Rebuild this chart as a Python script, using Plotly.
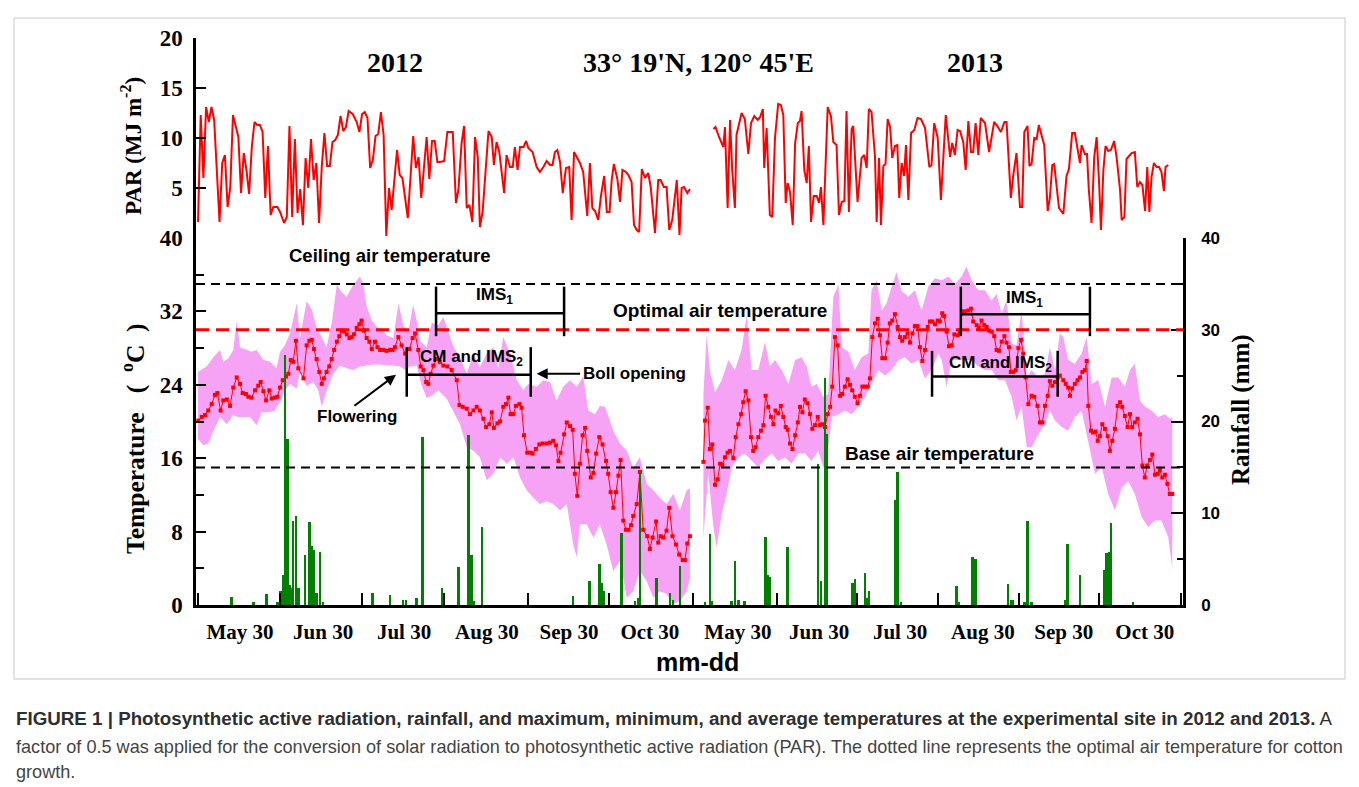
import plotly.graph_objects as go

# ------------------------------------------------------------------
# DATA  (x = day index on the shared season axis; 2012 season starts at 0,
#        2013 season is placed after it, starting near 184)
# ------------------------------------------------------------------
par12_day = [0, 1, 2, 3, 4, 5, 6, 8, 9, 10, 11, 12, 13, 15, 16, 17, 18, 19, 20, 21,
             22, 23, 24, 25, 26, 27, 28, 29.5, 30.5, 32, 33, 34, 35, 36, 37, 38, 39, 40, 41, 42,
             43, 44, 45, 46, 47, 48, 49, 50, 51, 52, 53, 54, 55, 56, 57.5, 59, 60, 61, 62, 63,
             64, 65, 66, 67, 68, 69, 70, 71, 72, 74, 75, 76, 78, 80, 81, 82, 83, 85, 86, 87,
             88, 89,
             90, 91.5, 92.7, 94.7, 95.9, 96.8, 98, 98.9, 99.9, 100.9,
             102, 103, 104, 104.8, 105.8, 108, 109.2, 110, 111, 112,
             113.8, 114.7, 116, 117, 117.8, 118.8, 119.7, 121, 122, 122.8,
             124.4, 125.9, 127.1, 128.4, 129.6, 130.9, 131.8, 132.7, 133.6, 134.6,
             135.6, 136.8, 138, 138.9, 139.8, 141, 142, 143.2, 144.7, 145.7,
             146.6, 147.6, 148.8, 149.8, 151, 152, 153, 153.8, 154.6, 155.9,
             156.9, 157.8, 159.1, 160, 161.2, 162.1, 163.1, 164, 165, 166.2,
             167.4, 168.3, 169.9, 171.1, 172, 173.2, 174.2, 175.2, 176.3, 178,
             179, 179.8, 180.7, 181.9, 182.9]
par12 = [1.6, 12.3, 6.0, 13.1, 11.6, 13.1, 11.8, 1.6, 7.5, 8.3, 3.1, 5.1, 12.3, 10.1, 4.5, 8.5, 6.8, 4.4, 9.1, 11.6,
         11.3, 11.3, 10.6, 4.0, 9.2, 2.3, 3.1, 3.1, 2.6, 1.5, 2.1, 11.2, 2.1, 9.9, 2.5, 4.9, 1.3, 8.0, 5.0, 9.9,
         5.8, 7.5, 1.5, 7.1, 10.5, 7.2, 7.2, 9.6, 9.8, 10.3, 12.2, 10.7, 11.1, 12.7, 12.4, 11.6, 10.6, 12.4, 12.6, 12.0,
         7.0, 7.8, 10.2, 10.4, 12.6, 10.3, 0.2, 5.0, 2.8, 8.8, 6.3, 6.0, 2.0, 10.2, 7.0, 8.1, 4.0, 10.1, 5.9, 9.7,
         9.7, 7.6,
         7.6, 7.7, 10.6, 10.6, 3.5, 4.8, 9.5, 11.2, 3.0, 3.3,
         1.6, 10.1, 8.1, 1.1, 2.6, 10.7, 10.1, 7.3, 9.6, 8.6,
         4.5, 8.3, 7.1, 7.1, 9.1, 6.8, 9.1, 9.1, 9.7, 9.0,
         8.6, 7.1, 6.6, 7.1, 7.7, 7.3, 7.3, 8.6, 8.8, 7.6,
         4.5, 7.0, 7.1, 1.8, 8.6, 8.0, 7.5, 6.6, 2.2, 7.5,
         3.0, 2.7, 1.8, 4.2, 6.2, 2.6, 2.6, 5.8, 7.4, 5.9,
         3.6, 6.8, 6.6, 6.3, 5.6, 1.3, 0.8, 0.6, 6.9, 6.0,
         6.5, 5.1, 0.5, 5.8, 5.8, 5.1, 5.1, 0.8, 1.8, 5.8,
         0.3, 5.0, 5.1, 4.5, 4.9]

par13_day = [191.6, 192.4, 193.7, 195.3, 195.9, 196.9, 197.8, 198.6, 199.6, 200.2,
             202.1, 203.3, 204.6, 205.6, 206.8, 208.1, 209, 210, 210.5, 211.4,
             212.6, 213.5, 214.5, 215.7, 216.7, 217.6, 218.5, 219.2, 220.1, 221.1,
             222, 223, 223.8, 224.4, 225.4, 226.3, 227.1, 227.9, 228.9, 230,
             230.9, 231.6, 232.5, 234.1, 235.3, 236.2, 237.4, 238.3, 239.3, 240.3,
             241.1, 242, 243, 243.6, 245.2, 246.7, 247.7, 248.6, 249.4, 250.4,
             251.7, 252.3, 253.2, 253.9, 254.8, 255.6, 256.4, 257.3, 258.1, 259.1,
             260, 260.7, 261.6, 262.5, 263.2, 264.1, 265.1, 266.3, 267.5, 268.8,
             270.3, 271.9, 272.7, 273.7,
             275, 276.2, 278, 279.6, 280.4, 281.4, 282.4, 283.3, 284.5, 285.4,
             286.4, 287.4, 288.2, 289.1, 290.1, 291, 292.6, 294.1, 296, 296.9,
             298.5, 299.8, 300.6, 302.2, 303.1, 304.3, 305.6, 306.4, 307.2, 308.4,
             309.1, 309.9, 310.9, 311.8, 312.6, 313.4, 314.6, 315.9, 316.7, 317.6,
             318.3, 320.1, 321.7, 322.9, 323.8, 325, 326, 327.9, 328.5, 329.7,
             330.5, 331.2, 332.2, 333.2, 334.1, 335, 335.7, 336.6, 337.4, 338.4,
             339.4, 340.6, 341.5, 342.8, 343.4, 344.4, 345.2, 347.1, 348.3, 349.2,
             350.2, 351.1, 352.1, 352.9, 353.7, 354.5, 355.4, 356.4, 357.3, 358.2,
             359.1, 359.7, 360.7]
par13 = [10.9, 11.1, 10.1, 9.1, 11.1, 3.0, 11.8, 6.8, 3.0, 10.3,
         12.5, 11.9, 8.4, 11.5, 12.2, 11.8, 12.1, 12.9, 7.0, 11.0,
         2.3, 2.1, 10.0, 13.4, 13.3, 12.3, 3.5, 5.5, 4.6, 1.3,
         9.5, 11.5, 11.7, 12.7, 6.8, 5.5, 9.2, 1.6, 4.2, 4.2,
         3.5, 5.1, 1.3, 13.1, 12.2, 9.6, 9.3, 2.3, 3.6, 3.7,
         12.7, 2.6, 10.9, 11.2, 3.6, 8.0, 8.3, 7.0, 12.9, 12.6,
         8.1, 1.6, 8.0, 1.3, 7.2, 7.4, 11.9, 11.1, 8.0, 9.2,
         9.3, 4.0, 7.5, 6.2, 9.3, 3.8, 10.5, 10.8, 12.0, 11.9,
         11.0, 7.1, 7.3, 11.5,
         10.0, 3.8, 12.3, 8.1, 9.5, 8.3, 10.8, 10.7, 9.6, 6.8,
         11.7, 8.6, 8.6, 11.5, 8.3, 12.0, 11.5, 8.6, 11.6, 11.3,
         10.6, 11.6, 11.6, 4.0, 6.3, 8.5, 3.1, 3.1, 10.6, 11.2,
         7.2, 7.4, 10.0, 9.9, 11.3, 10.5, 9.3, 2.7, 4.0, 7.3,
         7.4, 3.0, 2.4, 6.2, 6.9, 10.5, 10.5, 7.5, 9.3, 8.4,
         8.4, 4.8, 1.5, 8.1, 10.1, 5.6, 0.8, 6.8, 9.2, 8.7,
         8.8, 9.7, 8.1, 4.8, 1.8, 2.1, 7.9, 8.5, 8.6, 5.1,
         5.6, 5.3, 2.7, 7.1, 2.6, 6.1, 7.5, 7.1, 7.1, 6.6,
         4.7, 7.1, 7.3]

tavg12_day = [0.1, 1.4, 2.6, 3.8, 5.1, 6.3, 7.2, 8.4, 9.4, 10.7, 11.9, 13.1, 14.4, 15.6, 16.6, 17.8, 18.7, 19.9,
              21.2, 22.4, 23.3, 24.3, 25.3, 26.5, 27.4, 28.6, 29.5, 30.5, 31.5, 32.7, 33.6, 34.5, 35.4, 36.4,
              37.3, 39.2, 40.4, 41.4, 42.3, 43.1, 44.1, 45.1, 46, 46.8, 47.8, 48.8, 49.7, 50.6, 51.6, 52.5,
              53.4, 54.3, 55.3, 56.3, 57.1, 58, 59, 60, 60.8, 61.7, 62.7, 63.7, 64.6, 65.8, 66.7, 67.7, 68.9,
              70.1, 71.4, 72.4, 73.2, 74.5, 75.7, 77, 78.6, 79.8, 80.7, 81.9, 82.8, 83.8, 84.8, 85.6, 86.5,
              87.5, 88.7, 89.9,
              91.2, 92.7, 94.3, 96.2, 97.2, 98.4, 99.9, 101.1, 102.4, 103.6, 104.8, 106.1, 107.1, 108.3,
              109.2, 110, 111.3, 112.3, 113.5, 114.5, 115.4, 116.2, 117.2, 118.2, 119.5, 120.3, 121.2,
              122.4, 123.7, 124.4, 125.6, 126.9, 128.1, 129.6, 130.9, 132.1, 133.1, 134, 134.8, 136.1,
              137.1, 138.3, 139.3, 140.1, 141, 142, 143, 143.9, 144.7, 146, 147, 148, 149.2, 150.4, 151.7,
              152.5, 153.4, 154.4, 155.4, 156.3, 157.1, 158.1, 159.1, 160.1, 161, 161.8, 163.1, 164.3,
              165.5, 167, 168, 169, 170.3, 171.1, 172, 173, 174.2, 175.2, 176.4, 177.7, 178.9, 180.2, 181,
              181.9, 182.9]
tavg12 = [20.1, 20.5, 20.7, 21.2, 21.9, 22.9, 23.1, 21.2, 22.3, 22.4, 21.7, 23.7, 24.8, 24.1, 23.1, 23.0, 22.7, 22.6,
          23.4, 23.9, 24.3, 23.3, 22.3, 23.4, 22.5, 22.6, 22.7, 23.7, 24.5, 24.9, 25.2, 26.7, 26.5, 28.8,
          25.8, 24.7, 28.3, 28.8, 28.9, 27.9, 26.8, 25.4, 24.1, 24.7, 25.4, 26.0, 26.8, 27.8, 28.7, 29.3,
          29.9, 29.8, 29.5, 29.1, 29.2, 29.5, 30.2, 30.6, 31.0, 29.9, 29.1, 28.7, 27.9, 28.7, 28.1, 27.8, 27.8,
          27.7, 27.8, 27.8, 28.1, 29.2, 28.3, 27.4, 27.9, 29.1, 29.6, 27.8, 26.0, 25.6, 24.3, 24.1, 25.2,
          26.1, 26.8, 26.5,
          26.1, 26.0, 25.6, 24.5, 21.8, 21.6, 21.4, 20.8, 21.2, 21.6, 21.2, 20.3, 19.4, 19.7,
          21.0, 19.3, 19.8, 20.0, 21.6, 21.9, 22.6, 20.8, 20.8, 21.7, 21.9, 21.5, 18.5,
          16.6, 16.6, 16.5, 17.0, 17.5, 17.6, 17.6, 17.7, 17.9, 17.4, 15.7, 16.6, 18.6,
          19.9, 19.5, 19.1, 14.3, 11.9, 15.4, 18.5, 19.3, 16.8, 13.9, 14.4, 16.5, 18.3, 17.5, 15.7,
          14.3, 12.3, 10.6, 12.3, 14.1, 15.8, 9.2, 8.2, 8.2, 8.7, 9.7, 11.0, 14.5,
          8.2, 7.5, 6.1, 7.35, 9.1, 6.8, 7.5, 7.35, 8.1, 10.6, 7.5, 6.6, 5.5, 4.9, 4.9,
          6.7, 7.5]

tmax12_day = [0, 3.2, 5.7, 8.2, 9.4, 11.3, 13.1, 14.4, 15.6, 18.1, 19.9, 21.8, 24.3, 26.8, 29.2, 30.5, 32.3,
              34.2, 36.7, 37.9, 40.4, 42.3, 44.1, 46, 47.8, 49.7, 51.6, 53.4, 55.3, 57.7, 60.2, 61.5, 62.7,
              64.6, 66.4, 68.3, 70.1, 72.6, 74.5, 76.3, 78.2, 80, 81.3, 82.5, 85, 86.9, 89.3, 91.2, 92.4, 95,
              97.4, 99.9, 102.4, 104.8, 107.3, 109.8, 111.6, 113.5, 116, 118.5, 121, 122.8, 125.9, 128.4,
              130.9, 133.3, 135.8, 138.3, 140.8, 143.2, 145.1, 147.6, 149.4, 151.3, 154.4, 156.9, 159.4,
              161.8, 164.3, 166.8, 169.3, 171.7, 174.2, 176.7, 179.2, 181.7, 182.9]
tmax12 = [25.4, 26.0, 27.0, 27.8, 26.5, 26.9, 27.8, 31.0, 28.1, 27.8, 27.6, 27.8, 26.7, 26.5, 25.8, 27.6, 28.3,
          29.6, 32.9, 29.1, 33.1, 32.2, 30.2, 29.2, 28.1, 30.7, 34.9, 34.1, 33.6, 34.9, 35.8, 34.9, 32.5,
          31.0, 30.3, 30.1, 29.4, 29.1, 32.9, 30.5, 29.8, 32.7, 31.0, 28.8, 28.1, 30.8, 30.5, 31.4, 30.3, 28.1,
          27.0, 25.2, 27.4, 25.9, 27.4, 28.1, 25.8, 29.2, 27.4, 24.5, 23.4, 24.1, 23.8, 24.5,
          24.3, 22.3, 23.8, 24.5, 23.8, 24.9, 21.2, 20.8, 21.7, 21.6, 19.0, 17.6, 16.8,
          15.0, 16.1, 13.2, 12.5, 11.7, 11.0, 12.1, 10.3, 12.5, 12.7]

tmin12_day = [0, 2, 3.8, 5.7, 8.2, 10.7, 13.1, 15, 16.9, 19.3, 21.8, 23.7, 26.2, 28.6, 30.5, 32.3, 34.2, 36.7,
              37.9, 40.4, 42.9, 44.7, 46, 47.8, 50.3, 52.8, 55.3, 57.7, 60.2, 62.7, 65.2, 67.7, 70.1, 72.6,
              75.1, 77, 78.8, 81.3, 83.2, 85, 86.9, 89.3, 92.4, 97.4, 99.9, 102.4, 104.8, 107.3, 109.8, 112.3,
              114.8, 117.3, 119.7, 122.2, 124.7, 127.1, 129.6, 132.1, 134.6, 137.1, 139.5, 140.8, 142, 144.5,
              147, 149.4, 151.9, 154.4, 156.9, 159.4, 161.8, 164.3, 166.8, 169.3, 171.7, 174.2, 176.7, 179.2,
              181.7, 182.9]
tmin12 = [18.1, 17.4, 17.6, 19.0, 20.5, 19.7, 20.7, 20.5, 20.5, 20.5, 19.6, 21.0, 21.0, 21.2, 22.1, 23.4, 24.1, 23.6,
          25.4, 23.9, 24.3, 23.4, 21.6, 23.4, 25.2, 26.1, 25.8, 25.6, 26.0, 26.1, 26.2, 26.2, 26.1, 26.1,
          26.0, 25.6, 26.0, 26.1, 23.9, 22.6, 22.8, 23.4, 22.5, 19.7, 17.2, 16.8, 16.1, 13.6, 14.3, 16.1,
          15.4, 16.1, 13.9, 12.5, 11.7, 11.0, 11.3, 11.0, 10.3, 11.0, 6.6, 5.2, 8.8, 8.8,
          7.35, 8.8, 6.6, 3.7, 4.8, 0.8, 1.5, 3.7, 2.6, 0.8, 1.5, 1.2, 0.1, 0.5,
          1.5, 2.9]

tavg13_day = [187.9, 188.5, 189.5, 190.3, 191.2, 192.2, 193.2, 194.1, 194.9, 195.9, 196.9, 197.8, 199, 199.9,
              200.9, 201.9, 202.7, 203.6, 204.6, 205.6, 206.4, 207.3, 208.3, 209.3, 210.2, 211, 212, 213,
              213.9, 214.7, 215.7, 216.7, 217.6, 218.5, 219.2, 220.1, 221, 222, 223, 223.8, 224.7, 225.6,
              226.6, 227.5, 228.4, 229.4, 230.4, 231.2, 232.1, 233.1, 234.1, 235, 235.8, 236.8, 237.8, 238.7,
              239.5, 240.5, 241.5, 242.4, 243.2, 244.2, 245.2, 246.1, 247, 248, 249, 249.8, 250.7, 251.7,
              252.7, 253.5, 254.4, 255.4, 256.4, 257.2, 258.1, 259.1, 260.1, 261, 261.8, 262.8, 263.8, 264.7,
              265.6, 266.5, 267.5, 268.4, 269.3, 270.3, 271.3, 272.1, 273, 274, 275, 275.8, 276.7,
              277.4, 278.3, 279.2, 280.2, 281.2, 282.4, 283.3, 284.1, 285.1, 286.4, 287.4, 288.2, 289.5,
              290.3, 291.3, 292.3, 293.2, 294.1, 295.1, 296, 296.9, 297.8, 298.8, 299.8, 300.6, 301.5, 302.2,
              303.1, 304, 305, 306, 306.8, 307.7, 308.7, 309.9, 310.9, 312.1, 313, 313.9, 314.9, 315.9, 316.7,
              317.6, 318.6, 319.6, 320.4, 321.7, 322.6, 323.5, 324.2, 325, 326, 327, 327.9, 328.8, 329.7,
              330.4, 331, 332, 332.8, 333.7, 334.5, 335.3, 336.2, 337.2, 338.2, 339, 339.9, 340.9, 341.9,
              342.8, 343.6, 344.6, 345.6, 346.5, 347.3, 348.3, 349.3, 350.2, 351.1, 352, 352.9, 353.9, 354.8,
              355.8, 356.8, 357.6, 358.5, 359.5, 360.4, 361.3, 362.2]
tavg13 = [15.6, 20.1, 21.5, 17.0, 17.5, 13.1, 13.7, 15.4, 15.3, 16.1, 16.6, 16.8, 16.0, 18.3,
          19.7, 20.8, 22.1, 23.3, 22.3, 18.3, 16.8, 17.2, 18.3, 19.0, 19.6, 22.8, 21.6, 20.5,
          19.7, 21.2, 20.9, 21.7, 20.5, 19.4, 19.1, 17.6, 17.0, 18.5, 19.9, 21.6, 21.0, 22.4,
          22.0, 20.8, 19.2, 19.6, 20.5, 19.6, 19.7, 19.4, 20.8, 21.6, 23.8, 29.2, 28.3, 22.8,
          23.0, 23.8, 24.6, 24.0, 23.4, 22.7, 22.0, 22.8, 23.8, 23.8, 23.8, 24.7, 29.2, 30.7,
          31.2, 29.4, 26.9, 26.9, 28.6, 30.7, 31.0, 31.7, 30.3, 29.2, 28.8, 29.2, 29.6, 28.6,
          29.6, 30.4, 30.4, 28.1, 26.6, 27.8, 30.3, 30.9, 30.9, 30.6, 31.0, 30.9, 31.8,
          31.5, 29.8, 28.2, 28.3, 29.5, 29.4, 29.8, 32.0, 32.0, 32.1, 32.3, 30.9, 30.5,
          30.2, 31.0, 30.5, 30.3, 29.9, 29.8, 29.3, 27.8, 27.7, 28.7, 29.3, 28.6, 28.1, 25.4,
          25.4, 25.6, 28.0, 28.9, 27.4, 24.8, 21.9, 22.8, 22.7, 21.7, 19.9, 19.9, 21.7, 22.8, 24.4,
          23.9, 24.3, 24.8, 25.0, 24.5, 24.1, 23.7, 22.8, 23.6, 24.1, 24.5, 24.8, 25.4, 25.6,
          26.6, 21.7, 19.0, 18.8, 18.9, 17.9, 18.4, 19.7, 19.2, 18.4, 16.8, 17.9, 19.2, 21.7,
          22.1, 21.6, 20.6, 19.4, 20.8, 19.4, 19.9, 20.3, 18.6, 15.2, 13.9, 15.2, 15.8, 16.4,
          14.2, 14.3, 14.7, 13.9, 14.2, 13.2, 12.1, 12.1]

tmax13_day = [187.9, 189.1, 190.3, 192.2, 194.7, 197.2, 199.6, 202.1, 204, 205.8, 208.3, 210.8, 212.6, 214.5,
              217, 219.5, 222, 224.4, 226.3, 228.1, 230, 232.5, 234.3, 236.2, 238.1, 239.3, 241.8, 244.2,
              246.7, 249.2, 250.4, 252.3, 254.2, 256, 257.9, 259.7, 261.6, 264.1, 266.5, 269, 271.5, 274,
              276.5, 279, 281.4, 283.9, 285.7, 287.6, 290.1, 292.6, 295, 296.9, 298.8, 300.6, 302.5, 304.3,
              306.2, 308.1, 309.9, 312.4, 314.9, 316.7, 318.6, 320.4, 321.7, 323.5, 326, 328.5, 330.4, 332.2,
              334.7, 337.2, 339.7, 342.1, 344.6, 346.5, 348.3, 350.2, 352.1, 354.5, 357, 359.5, 361.3, 362.2]
tmax13 = [23.0, 29.4, 25.6, 23.2, 24.5, 26.7, 25.6, 27.8, 31.6, 25.6, 25.6, 28.7, 26.0, 26.7,
          25.6, 24.1, 26.7, 27.0, 26.0, 23.8, 24.1, 22.7, 23.0, 33.6, 34.9, 28.1, 27.6, 25.6,
          27.0, 27.4, 34.3, 35.4, 32.1, 32.9, 34.7, 36.3, 34.2, 33.6, 34.3, 32.1, 34.7, 35.6,
          35.4, 35.8, 35.0, 35.8, 36.9, 35.4, 34.3, 34.3, 33.2, 33.9, 31.8, 33.2, 28.5, 28.3,
          32.1, 24.8, 25.6, 24.8, 25.2, 28.1, 25.6, 29.6, 29.2, 26.7, 26.3, 27.4, 29.2, 24.1,
          24.5, 21.6, 24.8, 24.8, 23.8, 25.6, 26.3, 22.3, 21.6, 21.2, 20.5, 20.8, 20.3, 20.5]

tmin13_day = [187.9, 189.7, 191.6, 192.8, 194.7, 196.5, 198.4, 200.9, 203.3, 205.8, 208.3, 210.8, 213.3, 215.7,
              218.2, 220.7, 223.2, 225.7, 228.1, 230.6, 232.5, 233.7, 235.6, 238.1, 240.5, 243, 245.5, 248,
              250.4, 252.9, 255.4, 257.9, 260.4, 262.8, 265.3, 267.8, 270.3, 272.7, 275.2, 276.5, 278.3,
              280.2, 282.7, 285.1, 287.6, 290.1, 292.6, 295.1, 297.5, 300, 302.5, 304.3, 306.2, 308.1, 309.9,
              312.4, 314.9, 316.7, 318.6, 321.1, 323.5, 326, 328.5, 331, 333.5, 336, 338.4, 340.9, 343.4,
              345.9, 348.3, 350.8, 353.3, 355.8, 358.2, 360.7, 362.2]
tmin13 = [7.4, 14.3, 8.5, 6.3, 9.9, 12.1, 15.0, 16.1, 16.5, 15.7, 15.0, 15.9, 16.5, 15.7,
          16.1, 15.4, 16.5, 16.5, 15.7, 16.8, 15.0, 15.4, 20.5, 20.8, 21.2, 20.8, 21.6, 22.7,
          24.1, 25.6, 25.0, 25.6, 26.7, 27.0, 26.3, 26.7, 24.7, 25.6, 27.4, 26.7, 23.8,
          26.7, 26.7, 26.7, 26.7, 26.0, 25.6, 25.6, 24.5, 24.5, 22.7, 20.1, 21.6, 17.2, 17.2,
          18.6, 19.7, 21.2, 20.1, 19.4, 19.0, 20.5, 21.2, 17.9, 14.3, 15.0, 12.1, 10.3, 12.8,
          13.5, 12.1, 9.6, 8.5, 9.2, 9.2, 7.4, 4.1]

rain12_day = [12.5, 20.6, 25.5, 29.5, 30.7, 31.5, 32.3, 33.2, 34, 34.8, 35.4, 36.4, 37.3, 39.8, 41.4, 42.3, 43.1,
              44.1, 45.4, 46.4, 64.9, 71.4, 76.1, 77.3, 81.3, 83.4, 90.6, 96.8, 100.5, 101.1, 101.7, 102.4,
              105.5, 139.5, 145.5, 149.2, 150.1, 150.7, 157.5, 162.5, 163.7, 164.3, 170.5, 175.5, 176.5, 179.2]
rain12 = [0.9, 0.3, 1.2, 0.3, 1.5, 3.3, 27.2, 18.1, 2.2, 1.8, 9.2, 9.7, 1.8, 5.5, 9.1, 6.4, 6.0,
          1.3, 5.8, 0.3, 1.3, 1.1, 0.6, 0.6, 0.8, 18.3, 1.8, 4.1, 18.5, 5.2, 5.4, 0.4,
          8.5, 1.0, 2.6, 4.5, 2.4, 1.5, 7.9, 0.4, 0.8, 14.5, 2.9, 1.3, 0.6, 4.3]
rain13_day = [188.5, 190.3, 191, 198.4, 199.6, 200.9, 203.1, 211, 212, 212.6, 219.2, 230.6, 231.6, 233.1, 233.7,
              243.3, 244.2, 244.9, 248, 248.6, 249.4, 259.1, 260.1, 261.3, 282, 282.7, 287.9, 289.1, 301.2,
              302.2, 303.1, 307.2, 308.4, 309.9, 322.3, 323.3, 327.9, 337, 337.8, 338.7, 339.4, 347.7]
rain13 = [0.3, 7.7, 0.4, 0.4, 4.8, 0.6, 0.4, 7.4, 3.3, 3.1, 6.3, 15.4, 2.6, 24.7, 18.6,
          2.4, 2.8, 0.8, 3.5, 0.8, 1.5, 11.4, 14.5, 0.3, 2.1, 0.3, 5.2, 5.0, 2.3,
          0.6, 0.6, 0.3, 9.2, 0.3, 0.6, 6.7, 3.3, 3.8, 5.7, 5.8, 8.9, 0.3]

# axis ticks / labels
month_ticks = [0, 30.5, 61.0, 91.4, 122.7, 152.8, 184.0, 215.2, 245.0, 275.1, 305.2, 335.0, 365.4]
label_days = [15.6, 46.5, 76.6, 107.4, 137.9, 168.0, 200.7, 230.9, 261.0, 291.8, 321.9, 352.0]
label_text = ["May 30", "Jun 30", "Jul 30", "Aug 30", "Sep 30", "Oct 30"] * 2
par_ticks = [5, 10, 15, 20]
temp_ticks = [0, 8, 16, 24, 32, 40]
temp_minor = [4, 12, 20, 28, 36]
rain_ticks = [0, 10, 20, 30, 40]
rain_minor = [5, 15, 25, 35]

# reference temperatures
T_CEIL, T_OPT, T_BASE = 35, 30, 15

# growth stages (day index spans and bracket levels)
ims1_spans = [(88.5, 136.1), (283.6, 331.6)]
ims1_level = [31.8, 31.7]
cm_spans = [(77.6, 123.7), (272.9, 319.6)]
cm_level = [25.1, 24.9]

# ------------------------------------------------------------------
W, H = 1359, 787
ML, MR, MT, MB = 196, 176, 38, 182
PW, PH = W - ML - MR, H - MT - MB
def pxx(x):
    return (x - ML) / PW
def pxy(y):
    return (H - MB - y) / PH
split = pxy(238)

RED = "#FF0000"
PINK = "#F7A3F5"
GREEN = "#008000"
SERIF = "Liberation Serif, Times New Roman, serif"
SANS = "Liberation Sans, Arial, sans-serif"

fig = go.Figure()

for dmax, vmax, dmin, vmin in [(tmax12_day, tmax12, tmin12_day, tmin12),
                               (tmax13_day, tmax13, tmin13_day, tmin13)]:
    fig.add_trace(go.Scatter(x=dmax + dmin[::-1], y=vmax + vmin[::-1], fill="toself",
                             fillcolor=PINK, mode="lines", line=dict(width=0),
                             xaxis="x", yaxis="y2", hoverinfo="skip"))

for d, v in [(tavg12_day, tavg12), (tavg13_day, tavg13)]:
    fig.add_trace(go.Scatter(x=d, y=v, mode="lines+markers",
                             line=dict(color=RED, width=1),
                             marker=dict(symbol="square", size=4, color=RED),
                             xaxis="x", yaxis="y2"))

for d, v in [(par12_day, par12), (par13_day, par13)]:
    fig.add_trace(go.Scatter(x=d, y=v, mode="lines", line=dict(color=RED, width=2),
                             xaxis="x", yaxis="y"))

for d, v in [(rain12_day, rain12), (rain13_day, rain13)]:
    fig.add_trace(go.Bar(x=d, y=v, width=0.9, marker=dict(color=GREEN, line=dict(width=0)),
                         xaxis="x", yaxis="y3"))

# reference lines
for val, col, dash, wd in [(T_CEIL, "black", "9px,6px", 2), (T_BASE, "black", "9px,6px", 2),
                           (T_OPT, RED, "13px,7px", 3)]:
    fig.add_shape(type="line", xref="x domain", yref="y2", x0=0, x1=1, y0=val, y1=val,
                  line=dict(color=col, width=wd, dash=dash))

# stage brackets
def bracket(span, level, top, bottom):
    a, b = span
    fig.add_shape(type="line", xref="x", yref="y2", x0=a, x1=b, y0=level, y1=level,
                  line=dict(color="black", width=2.5))
    for xx in (a, b):
        fig.add_shape(type="line", xref="x", yref="y2", x0=xx, x1=xx, y0=bottom, y1=top,
                      line=dict(color="black", width=2.5))

bracket(ims1_spans[0], ims1_level[0], 34.7, 29.3)
bracket(ims1_spans[1], ims1_level[1], 34.7, 29.3)
bracket(cm_spans[0], cm_level[0], 28.1, 22.7)
bracket(cm_spans[1], cm_level[1], 27.7, 22.7)

ann = []
def txt(x, y, s, size, family=SANS, xref="x", yref="y2", color="black", **kw):
    ann.append(dict(x=x, y=y, xref=xref, yref=yref, text=s, showarrow=False,
                    xanchor=kw.pop("xanchor", "center"), yanchor=kw.pop("yanchor", "middle"),
                    font=dict(family=family, size=size, color=color), **kw))

txt(110.4, 33.7, "<b>IMS<sub>1</sub></b>", 17)
txt(307.4, 33.4, "<b>IMS<sub>1</sub></b>", 17)
txt(101.7, 26.9, "<b>CM and IMS<sub>2</sub></b>", 17)
txt(298.5, 26.3, "<b>CM and IMS<sub>2</sub></b>", 17)
txt(59.1, 20.5, "<b>Flowering</b>", 17)
txt(162.1, 25.2, "<b>Boll opening</b>", 17)
txt(71.4, 38.1, "<b>Ceiling air temperature</b>", 18.5)
txt(194.0, 32.1, "<b>Optimal air temperature</b>", 19)
txt(275.8, 16.5, "<b>Base air temperature</b>", 19)

# arrows
ann.append(dict(x=73.6, y=25.1, ax=57.6, ay=21.6, xref="x", yref="y2", axref="x", ayref="y2",
                text="", showarrow=True, arrowhead=2, arrowsize=1.1, arrowwidth=2, arrowcolor="black"))
ann.append(dict(x=125.9, y=25.2, ax=142.6, ay=25.2, xref="x", yref="y2", axref="x", ayref="y2",
                text="", showarrow=True, arrowhead=2, arrowsize=1.1, arrowwidth=2, arrowcolor="black"))

# headers
txt(pxx(395), pxy(62), "<b>2012</b>", 28, family=SERIF, xref="paper", yref="paper")
txt(pxx(698), pxy(62), "<b>33° 19'N, 120° 45'E</b>", 28, family=SERIF, xref="paper", yref="paper")
txt(pxx(975), pxy(62), "<b>2013</b>", 28, family=SERIF, xref="paper", yref="paper")

# axis titles
txt(pxx(131), pxy(146), "<b>PAR (MJ m<sup>-2</sup>)</b>", 23, family=SERIF, xref="paper", yref="paper",
    textangle=-90)
txt(pxx(133), pxy(439), "<b>Temperature\u2002 (\u2002<sup>o</sup>C\u2002)</b>", 25.5, family=SERIF,
    xref="paper", yref="paper", textangle=-90)
txt(pxx(1241), pxy(410), "<b>Rainfall (mm)</b>", 25, family=SERIF, xref="paper", yref="paper",
    textangle=-90)
txt(pxx(697), pxy(662), "<b>mm-dd</b>", 25, family=SANS, xref="paper", yref="paper")

# caption
cap_lines = [
    ("<b>FIGURE 1 | Photosynthetic active radiation, rainfall, and maximum, minimum, and average "
     "temperatures at the experimental site in 2012 and 2013.</b> A", 719, 18.75, "#2e2e2e"),
    ("factor of 0.5 was applied for the conversion of solar radiation to photosynthetic active radiation "
     "(PAR). The dotted line represents the optimal air temperature for cotton", 747, 18.1, "#444444"),
    ("growth.", 772, 18.1, "#444444"),
]
for s, yy, fs, col in cap_lines:
    txt(pxx(14), pxy(yy), s, fs, family=SANS, xref="paper", yref="paper", color=col,
        xanchor="left", yanchor="middle")

fig.update_layout(annotations=ann)

# outer frame around the figure panel
fig.add_shape(type="rect", xref="paper", yref="paper", x0=pxx(14), x1=pxx(1345), y0=pxy(679), y1=pxy(18),
              line=dict(color="#c8c8c8", width=1), layer="below")

axis_common = dict(showgrid=False, zeroline=False, showline=True, linecolor="black", linewidth=2.5)

fig.update_layout(
    width=W, height=H,
    margin=dict(l=ML, r=MR, t=MT, b=MB),
    paper_bgcolor="white", plot_bgcolor="rgba(0,0,0,0)",
    showlegend=False, bargap=0,
    xaxis=dict(range=[-0.75, 366.2], anchor="y2", **axis_common,
               tickmode="array", tickvals=label_days, ticktext=label_text, ticks="",
               ticklabelstandoff=6,
               tickfont=dict(family=SERIF, size=21, color="black", weight="bold"),
               minor=dict(tickmode="array", tickvals=month_ticks, ticks="inside", ticklen=12,
                          tickwidth=2, tickcolor="black")),
    yaxis=dict(domain=[split, 1], range=[0, 20], anchor="x", **axis_common,
               tickmode="array", tickvals=par_ticks, ticks="inside", ticklen=10, tickwidth=2,
               tickcolor="black", ticklabelstandoff=6,
               tickfont=dict(family=SERIF, size=23, color="black", weight="bold")),
    yaxis2=dict(domain=[0, split], range=[0, 40], anchor="x", **axis_common,
                tickmode="array", tickvals=temp_ticks, ticks="inside", ticklen=10, tickwidth=2,
                tickcolor="black", ticklabelstandoff=6,
                tickfont=dict(family=SERIF, size=23, color="black", weight="bold"),
                minor=dict(tickmode="array", tickvals=temp_minor, ticks="inside", ticklen=8,
                           tickwidth=2, tickcolor="black")),
    yaxis3=dict(overlaying="y2", side="right", range=[0, 40], anchor="x", **axis_common,
                tickmode="array", tickvals=rain_ticks, ticks="inside", ticklen=12, tickwidth=2,
                tickcolor="black", ticklabelstandoff=12,
                tickfont=dict(family=SANS, size=17, color="black", weight="bold"),
                minor=dict(tickmode="array", tickvals=rain_minor, ticks="inside", ticklen=6,
                           tickwidth=2, tickcolor="black")),
)

fig.write_html("out.html")
